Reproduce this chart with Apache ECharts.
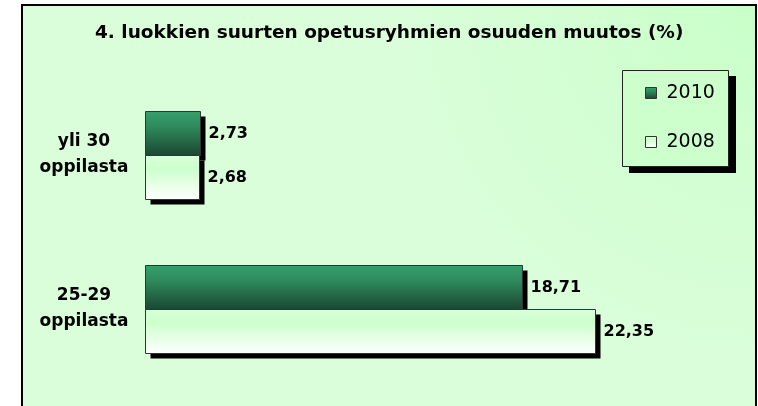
<!DOCTYPE html>
<html>
<head>
<meta charset="utf-8">
<script src="https://cdn.jsdelivr.net/npm/echarts@6/dist/echarts.min.js"></script>
<style>html,body{margin:0;padding:0;background:#fff}#c{width:758px;height:406px}</style>
</head>
<body>
<div id="c"></div>
<script>
const titleText = '4. luokkien suurten opetusryhmien osuuden muutos (%)';
const categories = ['25-29\noppilasta', 'yli 30\noppilasta'];
const seriesNames = ['2010', '2008'];
const values2010 = [18.71, 2.73];
const values2008 = [22.35, 2.68];

const chart = echarts.init(document.getElementById('c'));
const greenFill = {type:'linear', x:0, y:0, x2:0, y2:1, colorStops:[
  {offset:0, color:'#36a06d'}, {offset:0.35, color:'#2e8a5c'}, {offset:1, color:'#1a4630'}]};
const whiteFill = {type:'linear', x:0, y:0, x2:0, y2:1, colorStops:[
  {offset:0, color:'#dcffdc'}, {offset:0.3, color:'#ccffcc'}, {offset:1, color:'#ffffff'}]};
const fills = [greenFill, whiteFill];
const BAR = 44;

function renderBar(params, api) {
  const v = api.value(0), c = api.value(1);
  const p0 = api.coord([0, c]);
  const p1 = api.coord([v, c]);
  const x = Math.round(p0[0]) + 0.5;
  const w = Math.round(p1[0] - p0[0]);
  const y = Math.round(p0[1] + (params.seriesIndex === 0 ? -BAR : 0)) + 0.5;
  return {type:'group', children:[
    {type:'rect', shape:{x:x+5, y:y+5, width:w, height:BAR}, style:{fill:'#000'}},
    {type:'rect', shape:{x:x, y:y, width:w, height:BAR}, style:{fill:fills[params.seriesIndex], stroke:'#333', lineWidth:1}},
    {type:'text', x:x + w + 8, y:y + BAR/2, style:{text:v.toFixed(2).replace('.', ','),
      fontFamily:'DejaVu Sans', fontWeight:'bold', fontSize:16, fill:'#000',
      textAlign:'left', textVerticalAlign:'middle'}}
  ]};
}

chart.setOption({
  animation:false,
  backgroundColor:'#fff',
  graphic:[
    {type:'rect', z:-10, shape:{x:22, y:5, width:734, height:410},
      style:{fill:{type:'radial', x:1, y:0, r:0.9, colorStops:[
        {offset:0, color:'#c8ffc8'}, {offset:0.45, color:'#d2fed2'}, {offset:1, color:'#dafeda'}]},
        stroke:'#000', lineWidth:2}},
    {type:'rect', z:-5, shape:{x:629, y:76, width:107, height:97}, style:{fill:'#000'}},
    {type:'rect', z:-4, shape:{x:622.5, y:70.5, width:106, height:96}, style:{fill:'#ccffcc', stroke:'#222', lineWidth:1}}
  ],
  title:{text:titleText, left:95, top:24, padding:0,
    textStyle:{fontFamily:'DejaVu Sans', fontWeight:'bold', fontSize:18.5, color:'#000'}},
  legend:{orient:'vertical', left:645, top:83, padding:0,
    data:[{name:seriesNames[0], itemStyle:{color:greenFill, borderColor:'#333', borderWidth:1}},
          {name:seriesNames[1], itemStyle:{color:whiteFill, borderColor:'#333', borderWidth:1}}],
    itemGap:29, itemWidth:11, itemHeight:11, icon:'rect',
    textStyle:{fontFamily:'DejaVu Sans', fontSize:19, color:'#000', lineHeight:20, padding:[0,0,0,5]}},
  grid:{left:145, width:604, top:77.5, height:308, containLabel:false},
  xAxis:{type:'value', min:0, max:30, show:false},
  yAxis:{type:'category', data:categories, axisLine:{show:false}, axisTick:{show:false},
    splitLine:{show:false},
    axisLabel:{align:'center', margin:61, lineHeight:26, fontFamily:'DejaVu Sans', fontWeight:'bold', fontSize:17, color:'#000'}},
  series:[
    {name:seriesNames[0], type:'custom', renderItem:renderBar, encode:{x:0, y:1},
      itemStyle:{color:greenFill}, data:values2010.map((v,i)=>[v,i])},
    {name:seriesNames[1], type:'custom', renderItem:renderBar, encode:{x:0, y:1},
      itemStyle:{color:whiteFill}, data:values2008.map((v,i)=>[v,i])}
  ]
});
</script>
</body>
</html>
